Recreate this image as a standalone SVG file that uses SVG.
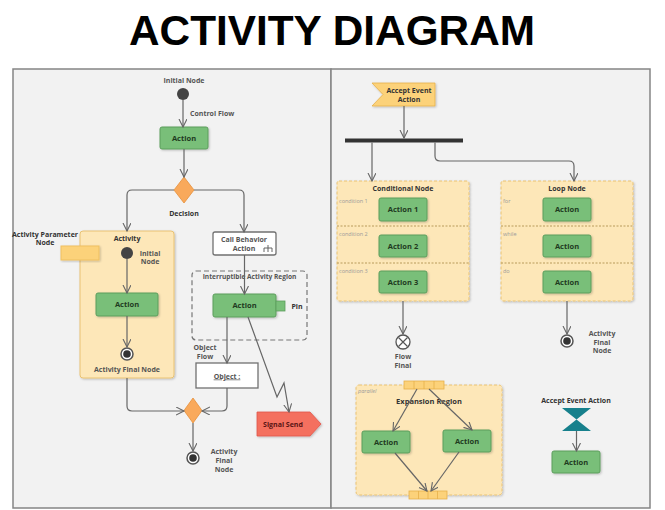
<svg xmlns="http://www.w3.org/2000/svg" width="665" height="510" viewBox="0 0 665 510">
<defs>
<marker id="arr" markerUnits="userSpaceOnUse" markerWidth="10" markerHeight="10" refX="8" refY="4" orient="auto">
<path d="M0,0 L8,4 L0,8" fill="none" stroke="#666" stroke-width="1.1"/>
</marker>
<filter id="sh" x="-10%" y="-10%" width="130%" height="130%">
<feDropShadow dx="1" dy="1" stdDeviation="0.8" flood-color="#000" flood-opacity="0.22"/>
</filter>
</defs>
<style>
.panel{fill:#f2f2f2;stroke:#858585;stroke-width:1.5}
.act{fill:#79bf79;stroke:#5c9e5c;stroke-width:1;filter:url(#sh)}
.cont{fill:#fde7b8;stroke:#e9c272;stroke-width:1;filter:url(#sh)}
.dash{stroke-dasharray:3 2}
.obj{fill:#fff;stroke:#707070;stroke-width:1.3}
.t{font-family:"Open Sans","DejaVu Sans",sans-serif;font-weight:bold;font-size:7px;fill:#555;text-anchor:middle}
.ta{fill:#1f3a1f;font-size:7.5px}
.dk{fill:#333}
.sm{font-family:"Open Sans","DejaVu Sans",sans-serif;font-size:5.5px;fill:#9a9a9a;text-anchor:start}
.c{fill:none;stroke:#666;stroke-width:1.2;marker-end:url(#arr)}
.init{fill:#444}
.fin{fill:#fff;stroke:#555;stroke-width:1.5}
.div{stroke:#b89a5a;stroke-width:1;stroke-dasharray:2 1.5}
.pin{fill:#fcd27a;stroke:#e6b04a;stroke-width:0.8}
</style>

<text x="332" y="45" font-family="Liberation Sans, Arial, sans-serif" font-weight="bold" font-size="42" text-anchor="middle" textLength="406" lengthAdjust="spacingAndGlyphs" fill="#000">ACTIVITY DIAGRAM</text>

<g id="panels">
<rect class="panel" x="13" y="69" width="318" height="439"/>
<rect class="panel" x="331" y="69" width="319" height="439"/>
</g>

<g id="initial-node">
<circle class="init" cx="183" cy="94" r="6"/>
<text class="t" x="184" y="82.5">Initial Node</text>
</g>
<g id="control-flow-label">
<text class="t" x="190" y="115.5" style="text-anchor:start">Control Flow</text>
</g>
<g id="action-top">
<rect class="act" x="160" y="127" width="48" height="22" rx="2"/>
<text class="t ta" x="184" y="140.5">Action</text>
</g>
<g id="decision">
<polygon points="184,177 194,190 184,203 174,190" fill="#f9a95b" stroke="#e58f3a" stroke-width="0.8"/>
<text class="t dk" x="184" y="215.5">Decision</text>
</g>
<g id="activity-parameter-node">
<text class="t dk" x="45" y="236.5">Activity Parameter</text>
<text class="t dk" x="45" y="245">Node</text>
</g>
<g id="activity">
<rect class="cont" x="80" y="231" width="94" height="147" rx="3"/>
<text class="t dk" x="127" y="240.5">Activity</text>
</g>
<g id="param-rect">
<rect x="61" y="246" width="38" height="14" fill="#fcd27a" stroke="#efc060" stroke-width="1" filter="url(#sh)"/>
</g>
<g id="activity-initial">
<circle class="init" cx="127" cy="253" r="6"/>
<text class="t" x="150" y="255.5">Initial</text>
<text class="t" x="150" y="264">Node</text>
</g>
<g id="activity-action">
<rect class="act" x="96" y="293" width="62" height="23" rx="2"/>
<text class="t ta" x="127" y="307">Action</text>
</g>
<g id="activity-final">
<circle class="fin" cx="127" cy="354" r="6"/>
<circle cx="127" cy="354" r="3.8" fill="#333"/>
<text class="t" x="127" y="371.5">Activity Final Node</text>
</g>
<g id="call-behavior">
<rect class="obj" x="213" y="232" width="63" height="23" rx="2"/>
<text class="t" x="244" y="242">Call Behavior</text>
<text class="t" x="244" y="251">Action</text>
<path d="M268,245 V252 M264,252 V248 H272 V252" fill="none" stroke="#555" stroke-width="0.9"/>
</g>
<g id="interruptible-region">
<rect x="192" y="271" width="115" height="69" rx="4" fill="none" stroke="#777" stroke-width="1.2" stroke-dasharray="5 3"/>
<text class="t" x="249.5" y="278.5" style="font-size:6.6px">Interruptible Activity Region</text>
</g>
<g id="action-pin">
<rect class="act" x="213" y="294" width="63" height="23" rx="2"/>
<text class="t ta" x="244.5" y="308">Action</text>
<rect x="276" y="301" width="9" height="10" fill="#79bf79" stroke="#5c9e5c" stroke-width="0.8"/>
<text class="t dk" x="297" y="308.5">Pin</text>
</g>
<g id="object-flow-label">
<text class="t" x="205" y="350">Object</text>
<text class="t" x="205" y="359">Flow</text>
</g>
<g id="object">
<rect class="obj" x="196" y="363" width="62" height="25"/>
<text class="t" x="227" y="378.5" text-decoration="underline">Object :</text>
</g>
<g id="signal-send">
<polygon points="257,412 310,412 321,424 310,436 257,436" fill="#f4705f" stroke="#e0574a" stroke-width="0.8" filter="url(#sh)"/>
<text class="t" x="283" y="426.5" style="fill:#5a1414">Signal Send</text>
</g>
<g id="merge">
<polygon points="193,398 202,410.5 193,423 184,410.5" fill="#f9a95b" stroke="#e58f3a" stroke-width="0.8"/>
</g>
<g id="final-left">
<circle class="fin" cx="193" cy="458" r="6"/>
<circle cx="193" cy="458" r="3.8" fill="#333"/>
<text class="t" x="224" y="453.5">Activity</text>
<text class="t" x="224" y="462.5">Final</text>
<text class="t" x="224" y="471.5">Node</text>
</g>

<g id="accept-event-flag">
<polygon points="372,83 435,83 435,106 372,106 383,94.5" fill="#fcd27a" stroke="#e6b04a" stroke-width="0.8" filter="url(#sh)"/>
<text class="t dk" x="409" y="93">Accept Event</text>
<text class="t dk" x="409" y="101.5">Action</text>
</g>
<g id="fork">
<rect x="345" y="138.5" width="118" height="4" fill="#333"/>
</g>
<g id="conditional-node">
<rect class="cont dash" x="337" y="181" width="132" height="120" rx="2"/>
<line class="div" x1="337" y1="226" x2="469" y2="226"/>
<line class="div" x1="337" y1="263" x2="469" y2="263"/>
<text class="t dk" x="403" y="190.5">Conditional Node</text>
<text class="sm" x="339" y="203">condition 1</text>
<text class="sm" x="339" y="236">condition 2</text>
<text class="sm" x="339" y="273">condition 3</text>
<rect class="act" x="379" y="198" width="48" height="23" rx="2"/>
<text class="t ta" x="403" y="212">Action 1</text>
<rect class="act" x="379" y="235" width="48" height="22" rx="2"/>
<text class="t ta" x="403" y="248.5">Action 2</text>
<rect class="act" x="379" y="271" width="48" height="22" rx="2"/>
<text class="t ta" x="403" y="284.5">Action 3</text>
</g>
<g id="loop-node">
<rect class="cont dash" x="501" y="181" width="132" height="120" rx="2"/>
<line class="div" x1="501" y1="226" x2="633" y2="226"/>
<line class="div" x1="501" y1="263" x2="633" y2="263"/>
<text class="t dk" x="567" y="190.5">Loop Node</text>
<text class="sm" x="503" y="203">for</text>
<text class="sm" x="503" y="236">while</text>
<text class="sm" x="503" y="273">do</text>
<rect class="act" x="543" y="198" width="48" height="23" rx="2"/>
<text class="t ta" x="567" y="212">Action</text>
<rect class="act" x="543" y="235" width="48" height="22" rx="2"/>
<text class="t ta" x="567" y="248.5">Action</text>
<rect class="act" x="543" y="271" width="48" height="22" rx="2"/>
<text class="t ta" x="567" y="284.5">Action</text>
</g>
<g id="flow-final">
<circle cx="403" cy="342" r="7" fill="#fff" stroke="#555" stroke-width="1.3"/>
<path d="M398.5,337.5 L407.5,346.5 M407.5,337.5 L398.5,346.5" stroke="#555" stroke-width="1.2"/>
<text class="t" x="403" y="359">Flow</text>
<text class="t" x="403" y="367.5">Final</text>
</g>
<g id="final-right">
<circle class="fin" cx="567" cy="341" r="6"/>
<circle cx="567" cy="341" r="3.8" fill="#333"/>
<text class="t" x="602" y="336">Activity</text>
<text class="t" x="602" y="344.5">Final</text>
<text class="t" x="602" y="353">Node</text>
</g>
<g id="expansion-region">
<rect class="cont dash" x="356" y="385" width="146" height="110" rx="3"/>
<text class="sm" x="358" y="393" font-style="italic">parallel</text>
<text class="t dk" x="429" y="403.5" style="font-size:7.5px">Expansion Region</text>
</g>
<g id="expansion-top">
<rect class="pin" x="404" y="381" width="40" height="8"/>
<path d="M414,381 V389 M424,381 V389 M434,381 V389" stroke="#e6b04a" stroke-width="0.8"/>
</g>
<g id="expansion-bottom">
<rect class="pin" x="409" y="491" width="38" height="8"/>
<path d="M418.5,491 V499 M428,491 V499 M437.5,491 V499" stroke="#e6b04a" stroke-width="0.8"/>
</g>
<g id="exp-action-left">
<rect class="act" x="362" y="431" width="48" height="22" rx="2"/>
<text class="t ta" x="386" y="444.5">Action</text>
</g>
<g id="exp-action-right">
<rect class="act" x="443" y="430" width="48" height="22" rx="2"/>
<text class="t ta" x="467" y="443.5">Action</text>
</g>
<g id="accept-event-hourglass">
<text class="t dk" x="576" y="402.5">Accept Event Action</text>
<path d="M562,408 H591 L562,431 H591 Z" fill="#17808c"/>
</g>
<g id="action-bottom-right">
<rect class="act" x="552" y="451" width="48" height="22" rx="2"/>
<text class="t ta" x="576" y="464.5">Action</text>
</g>

<g id="connectors">
<path class="c" d="M183,100 V127"/>
<path class="c" d="M184,149 V177"/>
<path class="c" d="M174,190 H132 Q127,190 127,195 V231"/>
<path class="c" d="M194,190 H239 Q244,190 244,195 V232"/>
<path class="c" d="M127,259 V293"/>
<path class="c" d="M127,316 V347"/>
<path class="c" d="M244.5,255 V294"/>
<path class="c" d="M227,317 V363"/>
<path class="c" d="M248,317 L277,397 L284,383 L289,412"/>
<path class="c" d="M127,378 V406 Q127,411 132,411 H184"/>
<path class="c" d="M227,388 V406 Q227,411 222,411 H202"/>
<path class="c" d="M193,423 V451"/>
<path class="c" d="M404,106 V138"/>
<path class="c" d="M372,142.5 V181"/>
<path class="c" d="M435,142.5 V156 Q435,161 440,161 H569 Q574,161 574,166 V181"/>
<path class="c" d="M403,301 V334"/>
<path class="c" d="M567,301 V334"/>
<path class="c" d="M417,389 L393,431"/>
<path class="c" d="M429,389 L472,430"/>
<path class="c" d="M395,453 L427,491"/>
<path class="c" d="M459,452 L431,491"/>
<path class="c" d="M576.5,431 V451"/>
</g>
</svg>
